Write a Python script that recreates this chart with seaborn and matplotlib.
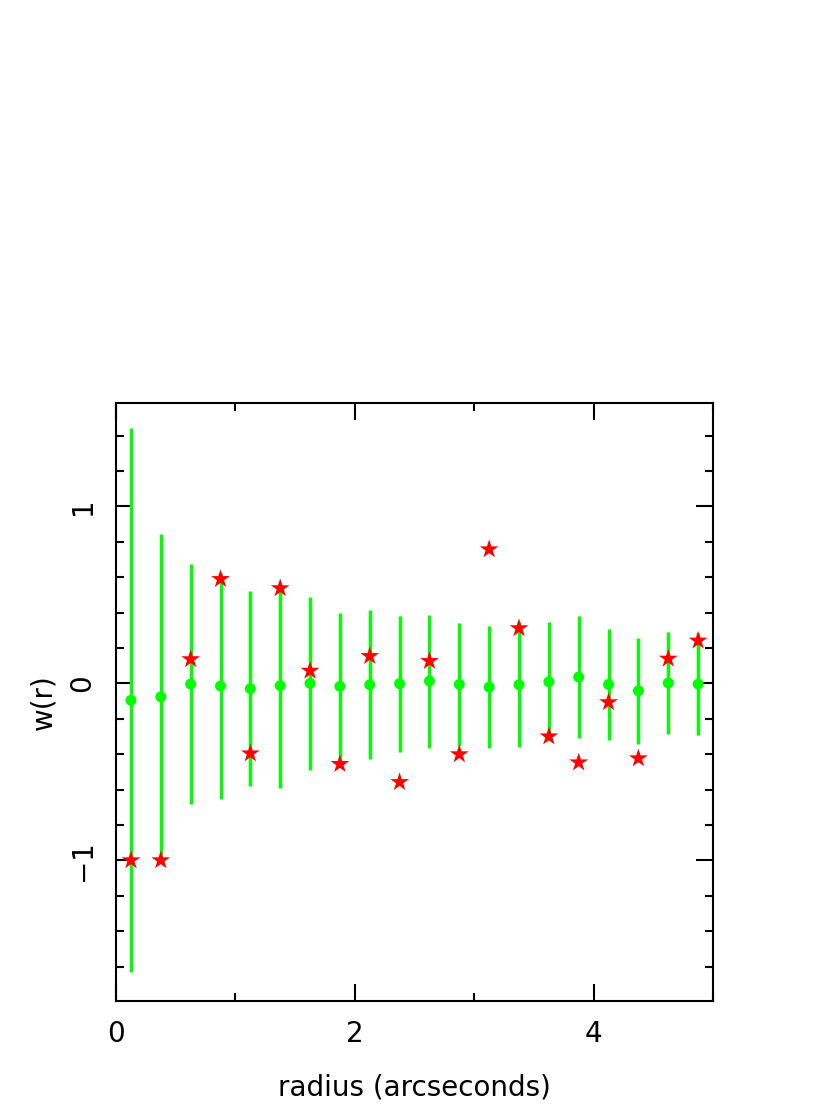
import numpy as np
import matplotlib
matplotlib.use("Agg")
import matplotlib.pyplot as plt
from matplotlib.ticker import MultipleLocator
import seaborn as sns
import pandas as pd

# Data
radius = [0.125, 0.375, 0.625, 0.875, 1.125, 1.375, 1.625, 1.875, 2.125, 2.375,
          2.625, 2.875, 3.125, 3.375, 3.625, 3.875, 4.125, 4.375, 4.625, 4.875]
w_mean = [-0.096, -0.076, -0.004, -0.015, -0.030, -0.013, 0.000, -0.017, -0.008, -0.002,
          0.013, -0.006, -0.021, -0.008, 0.009, 0.036, -0.006, -0.042, 0.002, -0.004]
w_err = [1.537, 0.92, 0.678, 0.637, 0.55, 0.58, 0.49, 0.412, 0.421, 0.385,
         0.376, 0.348, 0.343, 0.354, 0.337, 0.345, 0.313, 0.299, 0.288, 0.286]
w_obs = [-1.0, -1.0, 0.136, 0.589, -0.396, 0.537, 0.071, -0.456, 0.154, -0.558,
         0.126, -0.401, 0.757, 0.311, -0.300, -0.447, -0.107, -0.424, 0.139, 0.241]

df = pd.DataFrame({"radius": radius, "w_mean": w_mean, "w_err": w_err, "w_obs": w_obs})

sns.set_style("ticks")
plt.rcParams['font.family'] = ['DejaVu Sans']
plt.rcParams['text.color'] = 'black'
plt.rcParams['axes.labelcolor'] = 'black'
plt.rcParams['xtick.color'] = 'black'
plt.rcParams['ytick.color'] = 'black'

fig = plt.figure(figsize=(8.30, 11.17), dpi=100)
ax = fig.add_axes([0.1398, 0.1041, 0.7193, 0.5348])

green = "#00ff00"
red = "#ff0000"

ax.vlines(df["radius"], df["w_mean"] - df["w_err"], df["w_mean"] + df["w_err"],
          color=green, linewidth=2.4, zorder=2)
sns.scatterplot(data=df, x="radius", y="w_mean", ax=ax, color=green, s=62,
                edgecolor="none", zorder=3)
sns.scatterplot(data=df, x="radius", y="w_obs", ax=ax, color=red, marker="*", s=200,
                edgecolor="none", zorder=4)

ax.set_xlim(0, 5)
ax.set_ylim(-1.793, 1.582)

ax.xaxis.set_major_locator(MultipleLocator(2))
ax.xaxis.set_minor_locator(MultipleLocator(1))
ax.yaxis.set_major_locator(MultipleLocator(1))
ax.yaxis.set_minor_locator(MultipleLocator(0.2))

ax.tick_params(which="both", direction="in", top=True, right=True, width=1.5,
               color="black", labelcolor="black")
ax.tick_params(which="major", length=12)
ax.tick_params(which="minor", length=6)
ax.tick_params(axis="x", which="major", pad=14, labelsize=20)
ax.tick_params(axis="y", which="major", pad=14, labelsize=20)
for lab in ax.get_yticklabels():
    lab.set_rotation(90)
    lab.set_va("center")

for sp in ax.spines.values():
    sp.set_linewidth(1.5)
    sp.set_color("black")

ax.set_xlabel("radius (arcseconds)", fontsize=20, labelpad=18, color="black")
ax.set_ylabel("w(r)", fontsize=20, labelpad=8, color="black")

fig.savefig("out.png", dpi=100)
